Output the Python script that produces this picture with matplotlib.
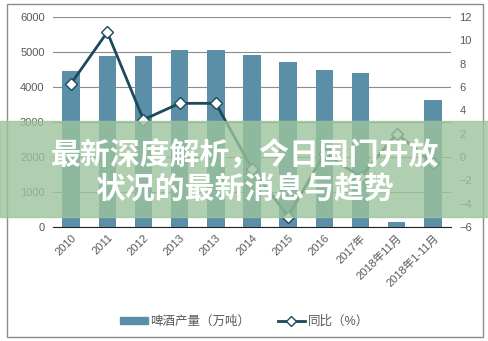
import matplotlib.pyplot as plt
from matplotlib.lines import Line2D
from matplotlib.patches import Rectangle, Patch
import numpy as np

plt.rcParams['font.family'] = ['Liberation Sans', 'Noto Sans CJK SC', 'DejaVu Sans']

# data
categories = ['2010', '2011', '2012', '2013', '2013', '2014', '2015', '2016',
              '2017年', '2018年11月', '2018年1-11月']
output = [4460, 4890, 4890, 5060, 5060, 4910, 4715, 4490, 4400, 150, 3630]
yoy = [6.3, 10.7, 3.2, 4.6, 4.6, -1.0, -5.1, 0.3, -1.7, 2.0, -0.5]

bar_color = '#5b8fa8'
line_color = '#1c4a5a'
tick_color = '#595959'

fig = plt.figure(figsize=(4.89, 3.41), dpi=100)
ax = fig.add_axes([53 / 489, 1 - 227 / 341, 398 / 489, 210 / 341])
ax2 = ax.twinx()

x = np.arange(len(categories))
ax.bar(x, output, width=0.48, color=bar_color, zorder=2)
ax.set_ylim(0, 6000)
ax.set_yticks(range(0, 6001, 1000))
ax.set_xlim(-0.5, len(categories) - 0.5)
ax.grid(axis='y', color='#8c8c8c', linewidth=0.8, zorder=0)
ax.set_axisbelow(True)
ax.set_xticks(x)
ax.set_xticklabels(categories, rotation=45, ha='right', rotation_mode='anchor',
                   fontsize=7.5, color=tick_color)

ax2.plot(x, yoy, color=line_color, linewidth=2, marker='D', markersize=6,
         markerfacecolor='white', markeredgecolor=line_color, markeredgewidth=1, zorder=3)
ax2.set_ylim(-6, 12)
ax2.set_yticks(range(-6, 13, 2))

for a in (ax, ax2):
    for s in a.spines.values():
        s.set_visible(False)
    a.tick_params(length=0, labelsize=8, colors=tick_color, pad=6)
ax.spines['bottom'].set_visible(True)
ax.spines['bottom'].set_color('#222222')
ax.tick_params(axis='x', pad=4)

# outer frame
fig.patches.append(Rectangle((7 / 489, 4 / 341), 476 / 489, 333 / 341, transform=fig.transFigure,
                             fill=False, edgecolor='#8c8c8c', linewidth=1))

handles = [Patch(color=bar_color),
           Line2D([], [], color=line_color, linewidth=2, marker='D', markersize=5,
                  markerfacecolor='white', markeredgecolor=line_color)]
fig.legend(handles, ['啤酒产量（万吨）', '同比（%）'], loc='center', bbox_to_anchor=(0.5, 1 - 322 / 341),
           ncol=2, frameon=False, fontsize=9, handlelength=2.2, handleheight=0.5,
           handletextpad=0.2, columnspacing=2.2, labelcolor=tick_color)

# banner overlay
fig.patches.append(Rectangle((0, 1 - 217 / 341), 1, 96 / 341, transform=fig.transFigure,
                             color='#9cc49c', alpha=0.8, zorder=5))
fig.text(0.5, 1 - 155 / 341, '最新深度解析，今日国门开放', ha='center', va='center',
         fontsize=21.5, fontweight='bold', color='white', family=['Noto Sans CJK SC'], zorder=6)
fig.text(0.5, 1 - 190 / 341, '状况的最新消息与趋势', ha='center', va='center',
         fontsize=21.5, fontweight='bold', color='white', family=['Noto Sans CJK SC'], zorder=6)

fig.savefig('out.png', dpi=100)
